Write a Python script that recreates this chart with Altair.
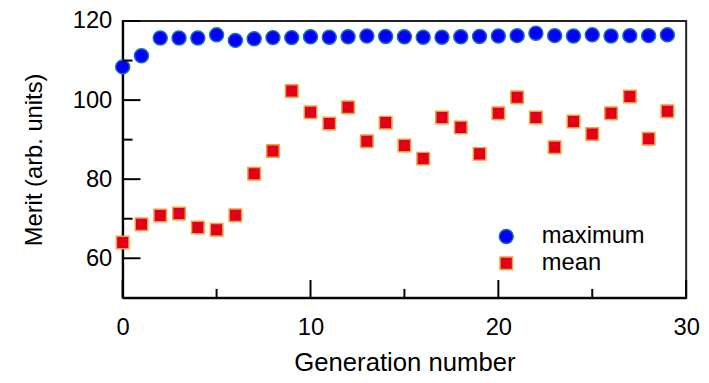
import altair as alt
import pandas as pd

generation = list(range(30))
maximum = [108.4, 111.2, 115.7, 115.7, 115.7, 116.5, 115.1, 115.5, 115.8, 115.8,
           116.0, 115.9, 116.0, 116.2, 116.1, 116.0, 115.9, 115.9, 116.0, 116.1,
           116.2, 116.3, 116.9, 116.3, 116.2, 116.5, 116.2, 116.3, 116.3, 116.5]
mean = [64.0, 68.6, 70.8, 71.3, 67.8, 67.2, 70.9, 81.4, 87.1, 102.3,
        96.9, 94.1, 98.2, 89.6, 94.3, 88.5, 85.2, 95.6, 93.1, 86.4,
        96.7, 100.7, 95.6, 88.1, 94.6, 91.4, 96.7, 100.9, 90.2, 97.2]
series_names = ["maximum", "mean"]
y_major = [60, 80, 100, 120]
y_minor = [70, 90, 110]
x_major = [0, 10, 20, 30]
x_minor = [5, 15, 25]

df = pd.DataFrame({
    "generation": generation * 2,
    "merit": maximum + mean,
    "series": [series_names[0]] * len(maximum) + [series_names[1]] * len(mean),
})

FONT = "Liberation Sans"
W, H = 570, 280
xscale = alt.Scale(domain=[0, 30], nice=False, zero=False)
yscale = alt.Scale(domain=[50, 120], nice=False, zero=False)

xaxis = alt.Axis(values=x_major, tickSize=0, grid=False, title="Generation number",
                 labelFontSize=24, titleFontSize=26, labelPadding=18, titlePadding=11,
                 labelFlush=False, labelOverlap=False,
                 domainWidth=2, domainColor="black", labelColor="black", titleColor="black",
                 titleFontWeight="normal", labelFont=FONT, titleFont=FONT)
yaxis = alt.Axis(values=y_major, tickSize=0, grid=False, title="Merit (arb. units)",
                 labelFontSize=24, titleFontSize=24, labelPadding=11, titlePadding=26,
                 labelFlush=False, labelOverlap=False,
                 domainWidth=2, domainColor="black", labelColor="black", titleColor="black",
                 titleFontWeight="normal", labelFont=FONT, titleFont=FONT)

points = alt.Chart(df).mark_point(filled=True, opacity=1, strokeWidth=1.5, strokeOpacity=1).encode(
    x=alt.X("generation:Q", scale=xscale, axis=xaxis),
    y=alt.Y("merit:Q", scale=yscale, axis=yaxis),
    color=alt.Color("series:N", scale=alt.Scale(domain=series_names, range=["#0000ff", "#e0001a"]), title=None),
    shape=alt.Shape("series:N", scale=alt.Scale(domain=series_names, range=["circle", "square"]), title=None),
    stroke=alt.Stroke("series:N", scale=alt.Scale(domain=series_names, range=["#1a6fb0", "#f5a040"]), title=None),
    size=alt.Size("series:N", scale=alt.Scale(domain=series_names, range=[200, 160]), title=None),
)

def yticks(vals, length):
    return alt.Chart(pd.DataFrame({"v": vals})).mark_rule(strokeWidth=2, color="black").encode(
        y=alt.Y("v:Q", scale=yscale, axis=yaxis), x=alt.value(0), x2=alt.value(length))

def xticks(vals, length):
    return alt.Chart(pd.DataFrame({"v": vals})).mark_rule(strokeWidth=2, color="black").encode(
        x=alt.X("v:Q", scale=xscale, axis=xaxis), y=alt.value(H), y2=alt.value(H - length))

chart = alt.layer(
    points, yticks(y_major, 18), yticks(y_minor, 10), xticks(x_major, 18), xticks(x_minor, 9)
).properties(
    width=W, height=H,
    autosize=alt.AutoSizeParams(type="none"),
    padding={"left": 116, "top": 11, "right": 15, "bottom": 83},
).configure_view(
    stroke="#222", strokeWidth=2
).configure_legend(
    orient="none", legendX=376, legendY=206, padding=0, labelFontSize=24, labelFont=FONT,
    labelColor="black", symbolStrokeWidth=1.5, labelOffset=24, rowPadding=3,
    symbolOpacity=1
)

chart.save("out.html", embed_options={"renderer": "svg", "actions": False})
